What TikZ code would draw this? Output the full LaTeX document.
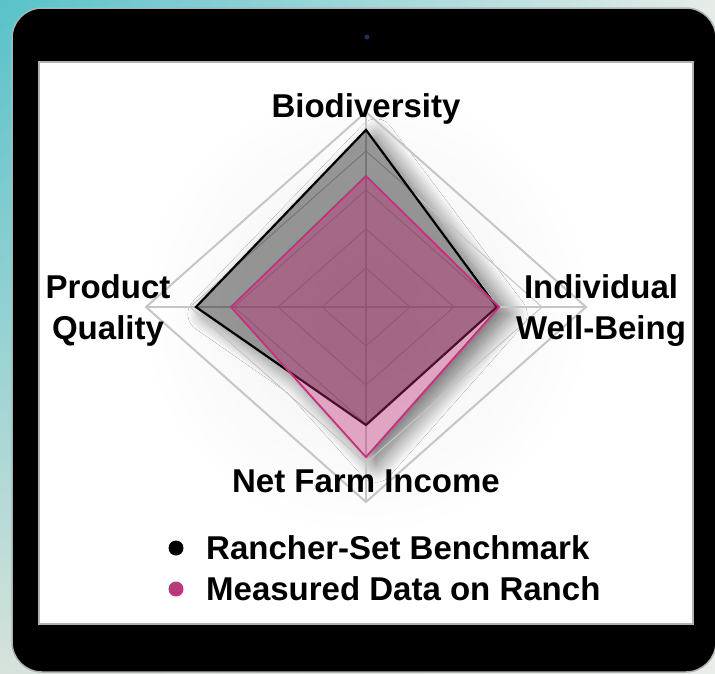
\documentclass[tikz,border=0pt]{standalone}
\usepackage{fontspec}
\setmainfont{Liberation Sans}
\usetikzlibrary{shadows.blur,shadings}
\definecolor{bgteal}{HTML}{58C2CA}
\definecolor{bgpaleA}{HTML}{E6ECE8}
\definecolor{bgpaleB}{HTML}{D6E2DB}
\definecolor{bgpaleC}{HTML}{E8EDEA}
\definecolor{camblue}{HTML}{1E2E66}
\definecolor{gridgray}{HTML}{C6C6C6}
\definecolor{magline}{HTML}{C4327D}
\definecolor{magfill}{HTML}{BE2A75}
\definecolor{magdot}{HTML}{B83A7C}
\tikzset{
  lbl/.style={font=\fontsize{33}{38}\selectfont\bfseries, text=black, inner sep=0pt},
  gridin/.style={draw=gridgray, line width=1pt},
  gridout/.style={draw=gridgray, line width=2pt},
  gridax/.style={draw=gridgray, line width=1.2pt},
  benchpoly/.style={draw=black, line width=2.2pt, fill=black, fill opacity=0.4, line join=miter},
  measpoly/.style={draw=magline, line width=1.8pt, fill=magfill, fill opacity=0.4, line join=miter},
  legdot/.style={circle, inner sep=0pt, minimum size=15pt}
}
\begin{document}
\begin{tikzpicture}[x=1pt,y=-1pt]
\useasboundingbox (0,0) rectangle (715,673);
% background
\shade[upper left=bgteal, upper right=bgpaleA, lower left=bgpaleB, lower right=bgpaleC] (0,0) rectangle (715,673);
% tablet
\fill[black, draw=gray!60, line width=1.5pt, rounded corners=30pt] (12,8) rectangle (716,672);
\fill[black, rounded corners=28pt] (14,10) rectangle (713,670);
\fill[camblue] (367,37) circle (2.5);
% screen
\fill[white, draw=gray!60, line width=1.2pt] (39,62) rectangle (693,624);
% faint halo
\shade[inner color=black!6, outer color=white] (366,310) circle (228);
% shadow of the data polygons, only outside them
\begin{scope}
  \clip (39,62) -- (693,62) -- (693,624) -- (39,624) -- cycle
        (366,129.9) -- (195.9,307) -- (289.4,372) -- (366,457.2) -- (499.1,307) -- cycle;
  \path[blur shadow={shadow xshift=10pt, shadow yshift=-7pt, shadow blur radius=18pt, shadow blur steps=24, shadow opacity=58}]
    (366,129.9) -- (499.1,307) -- (366,457.2) -- (289.4,372) -- (195.9,307) -- cycle;
\end{scope}
% chart
\begin{scope}[shift={(366,307)}, x=220pt, y=195pt]
  \foreach \r in {0.2,0.4,0.6,0.8}
    \draw[gridin] (0,\r) -- (\r,0) -- (0,-\r) -- (-\r,0) -- cycle;
  \draw[gridax] (0,1) -- (0,-1);
  \draw[gridax] (-1,0) -- (1,0);
  \draw[gridout] (0,1) -- (1,0) -- (0,-1) -- (-1,0) -- cycle;
  \draw[benchpoly] (0,0.908) -- (0.595,0) -- (0,-0.605) -- (-0.773,0) -- cycle;
  \draw[measpoly] (0,0.672) -- (0.605,0) -- (0,-0.77) -- (-0.614,0) -- cycle;
\end{scope}
% labels
\node[lbl, anchor=base] (bio) at (366,117) {Biodiversity};
\node[lbl, anchor=base] (prod) at (108,298) {Product};
\node[lbl, anchor=base] (qual) at (108,339) {Quality};
\node[lbl, anchor=base] (indiv) at (601,298) {Individual};
\node[lbl, anchor=base] (well) at (601,339) {Well-Being};
\node[lbl, anchor=base] (nfi) at (366,492) {Net Farm Income};
% legend
\node[legdot, fill=black] (dot1) at (176,548) {};
\node[legdot, fill=magdot] (dot2) at (176,589) {};
\node[lbl, anchor=base west] (leg1) at (206,559) {Rancher-Set Benchmark};
\node[lbl, anchor=base west] (leg2) at (206,600) {Measured Data on Ranch};
\end{tikzpicture}
\end{document}
